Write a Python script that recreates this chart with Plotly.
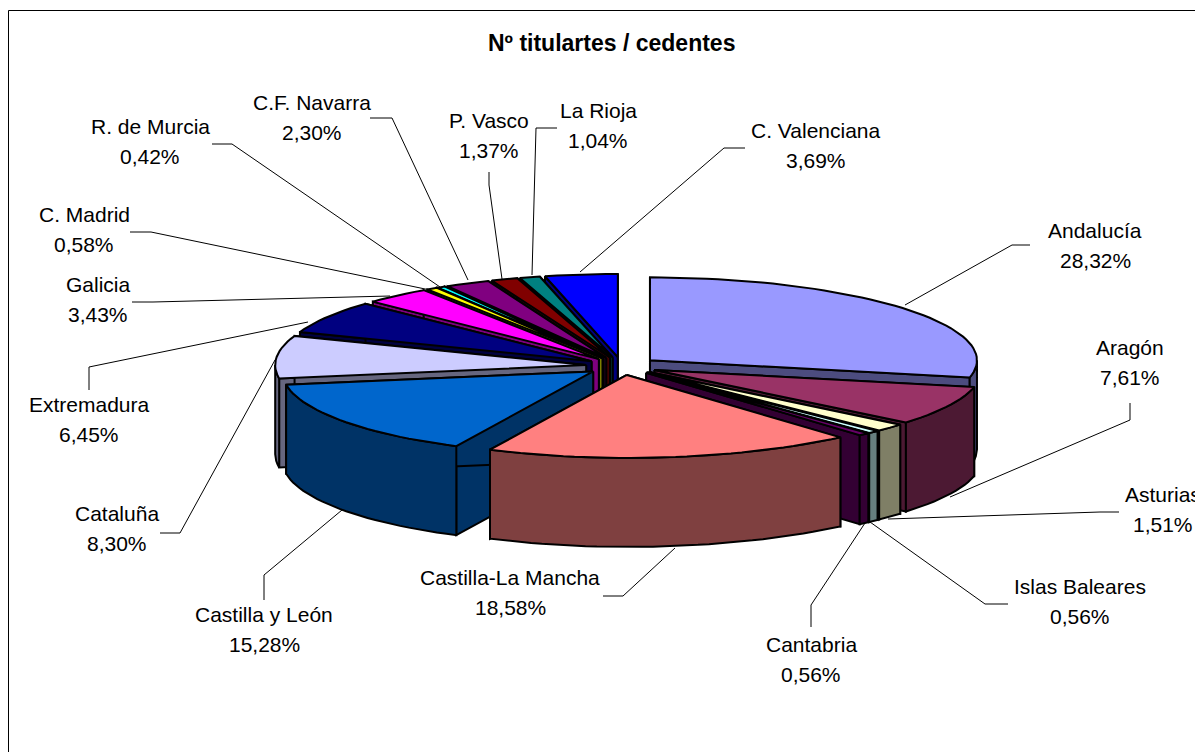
import math
import plotly.graph_objects as go

REGIONS = ["Andalucía", "Aragón", "Asturias", "Islas Baleares", "Cantabria",
           "Castilla-La Mancha", "Castilla y León", "Cataluña", "Extremadura",
           "Galicia", "C. Madrid", "R. de Murcia", "C.F. Navarra", "P. Vasco",
           "La Rioja", "C. Valenciana"]
VALUES = [28.32, 7.61, 1.51, 0.56, 0.56, 18.58, 15.28, 8.30, 6.45, 3.43, 0.58,
          0.42, 2.30, 1.37, 1.04, 3.69]
COLORS = ["#9999FF", "#993366", "#FFFFCC", "#CCFFFF", "#660066", "#FF8080",
          "#0066CC", "#CCCCFF", "#000080", "#FF00FF", "#FFFF00", "#00FFFF",
          "#800080", "#800000", "#008080", "#0000FF"]
TITLE = "Nº titulartes / cedentes"

# label placement: centre x, y of first line, leader path (layout, in page pixels)
LABEL_LAYOUT = {
    "Andalucía": (1095, 230, [(1030, 245), (1012, 245), (905, 305)]),
    "Aragón": (1130, 347, [(1130, 403), (1130, 420), (950, 497)]),
    "Asturias": (1163, 494, [(1119, 512), (1100, 512), (888, 519)]),
    "Islas Baleares": (1080, 586, [(1008, 604), (985, 604), (870, 522)]),
    "Cantabria": (811, 644, [(811, 627), (811, 605), (865, 523)]),
    "Castilla-La Mancha": (510, 577, [(603, 596), (623, 596), (675, 548)]),
    "Castilla y León": (264, 614, [(264, 600), (264, 575), (342, 510)]),
    "Cataluña": (117, 513, [(160, 533), (180, 533), (275, 360)]),
    "Extremadura": (89, 404, [(89, 390), (89, 367), (308, 322)]),
    "Galicia": (98, 284, [(132, 302), (153, 302), (390, 296)]),
    "C. Madrid": (84, 214, [(130, 232), (151, 232), (430, 290)]),
    "R. de Murcia": (150, 126, [(212, 144), (232, 144), (440, 287)]),
    "C.F. Navarra": (312, 102, [(370, 118), (392, 118), (468, 280)]),
    "P. Vasco": (489, 120, [(489, 172), (489, 185), (502, 279)]),
    "La Rioja": (598, 110, [(557, 128), (536, 128), (532, 275)]),
    "C. Valenciana": (816, 130, [(745, 148), (724, 148), (580, 272)]),
}

W, H = 1195, 752
CX, CY = 622, 366          # pie centre on the page
RX_MID, RX_SKEW = 319, 8   # horizontal radius (perspective: wider on the right)
RY = 83                    # vertical radius
EX, EY = 36, 9             # explosion offset
DEPTH = 89                 # wall height
FONT = "Liberation Sans"
STEP = 2.0


def darker(hex_color):
    r, g, b = (int(hex_color[i:i + 2], 16) for i in (1, 3, 5))
    return f"rgb({r // 2},{g // 2},{b // 2})"


def rim(ax, ay, deg):
    t = math.radians(deg)
    s, c = math.sin(t), math.cos(t)
    return ax + s * (RX_MID + RX_SKEW * s), ay - RY * c


def arc(ax, ay, a0, a1):
    n = max(2, int((a1 - a0) / STEP) + 1)
    return [rim(ax, ay, a0 + (a1 - a0) * i / (n - 1)) for i in range(n)]


def poly(fig, pts, color):
    xs = [p[0] for p in pts] + [pts[0][0]]
    ys = [p[1] for p in pts] + [pts[0][1]]
    fig.add_trace(go.Scatter(x=xs, y=ys, mode="lines", fill="toself", fillcolor=color,
                             line=dict(color="black", width=2), hoverinfo="skip",
                             showlegend=False))


total = sum(VALUES)
slices = []
start = 0.0
for name, value, color in zip(REGIONS, VALUES, COLORS):
    sweep = value / total * 360
    slices.append((name, color, start, start + sweep))
    start += sweep

fig = go.Figure()
# paint from the back of the pie to the front
for name, color, a0, a1 in sorted(slices, key=lambda s: -math.cos(math.radians((s[2] + s[3]) / 2))):
    mid = math.radians((a0 + a1) / 2)
    ax, ay = CX + EX * math.sin(mid), CY - EY * math.cos(mid)
    side = darker(color)
    top_arc = arc(ax, ay, a0, a1)
    for edge in (top_arc[0], top_arc[-1]):
        poly(fig, [(ax, ay), edge, (edge[0], edge[1] + DEPTH), (ax, ay + DEPTH)], side)
    # only the part of the outer wall that faces the viewer (90° to 270°)
    w0, w1 = max(a0, 90.0), min(a1, 270.0)
    if w1 > w0:
        wall = arc(ax, ay, w0, w1)
        poly(fig, wall + [(x, y + DEPTH) for x, y in wall][::-1], side)
    poly(fig, [(ax, ay)] + top_arc, color)

shapes = [dict(type="line", x0=8.5, y0=10.5, x1=W, y1=10.5, line=dict(color="black", width=1)),
          dict(type="line", x0=8.5, y0=10.5, x1=8.5, y1=H, line=dict(color="black", width=1))]
annotations = [dict(x=611, y=43, text=f"<b>{TITLE}</b>", showarrow=False, xanchor="center",
                    yanchor="middle", font=dict(family=FONT, size=23, color="black"))]
LABEL_SIZE = 21
LINE_GAP = 30
for name, value in zip(REGIONS, VALUES):
    lx, ly, path = LABEL_LAYOUT[name]
    d = "M " + " L ".join(f"{x} {y}" for x, y in path)
    shapes.append(dict(type="path", path=d, line=dict(color="black", width=1)))
    for i, txt in enumerate((name, f"{value:.2f}%".replace(".", ","))):
        annotations.append(dict(x=lx, y=ly + i * LINE_GAP, text=txt, showarrow=False,
                                xanchor="center", yanchor="middle",
                                font=dict(family=FONT, size=LABEL_SIZE, color="black")))

fig.update_layout(width=W, height=H, margin=dict(l=0, r=0, t=0, b=0), paper_bgcolor="white",
                  plot_bgcolor="white", showlegend=False, shapes=shapes, annotations=annotations,
                  xaxis=dict(range=[0, W], visible=False, fixedrange=True),
                  yaxis=dict(range=[H, 0], visible=False, fixedrange=True))
fig.write_html("out.html", post_script="document.body.style.margin='0';document.body.style.overflow='hidden';",
               config=dict(displayModeBar=False))
